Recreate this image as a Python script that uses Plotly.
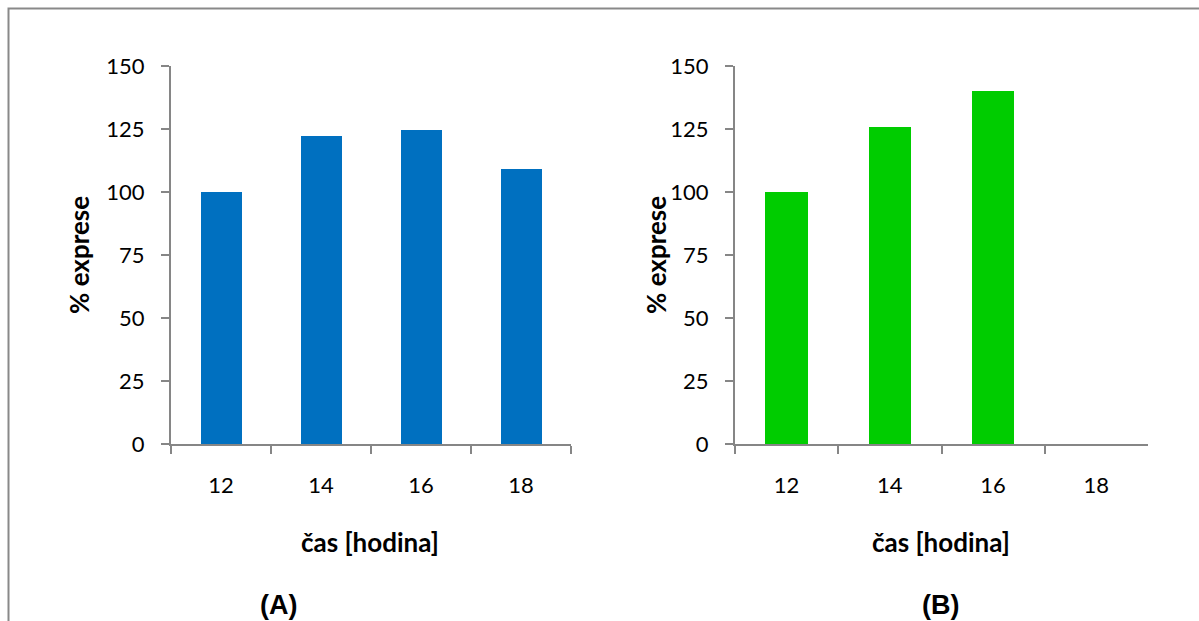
import plotly.graph_objects as go

# Data
hours = ["12", "14", "16", "18"]
expr_a = [100, 122.2, 124.6, 109.1]
expr_b = [100, 125.8, 140.0, None]
y_ticks = [0, 25, 50, 75, 100, 125, 150]

W, H = 1199, 621
AXIS_GRAY = "#868686"
TICK_FONT = dict(family="Lato, 'Open Sans', sans-serif", size=22, color="#000000")
TITLE_FONT = dict(family="Lato, 'Open Sans', sans-serif", size=26, color="#000000")
PANEL_FONT = dict(family="'Liberation Sans', Arial, sans-serif", size=27, color="#000000")

def px_x(x):
    return x / W

def px_y(y):
    return (H - y) / H

y_dom = [px_y(444), px_y(66)]
xa_dom = [px_x(171), px_x(571)]
xb_dom = [px_x(735), px_x(1148)]

fig = go.Figure()
fig.add_trace(go.Bar(x=hours, y=expr_a, marker_color="#0070C0", marker_line_width=0,
                     width=0.41, xaxis="x", yaxis="y", showlegend=False))
fig.add_trace(go.Bar(x=hours, y=expr_b, marker_color="#00CC00", marker_line_width=0,
                     width=0.41, xaxis="x2", yaxis="y2", showlegend=False))

xcommon = dict(type="category", range=[-0.5, 3.5], showline=True, linecolor=AXIS_GRAY,
               linewidth=2, ticks="outside", tickson="boundaries", ticklen=8,
               tickcolor=AXIS_GRAY, tickwidth=1.5, showgrid=False, zeroline=False,
               tickfont=TICK_FONT, ticklabelstandoff=21, automargin=False, fixedrange=True)
ycommon = dict(range=[0, 150], tickvals=y_ticks, showline=True, linecolor=AXIS_GRAY,
               linewidth=2, ticks="outside", ticklen=8, tickcolor=AXIS_GRAY, tickwidth=1.5,
               showgrid=False, zeroline=False, tickfont=TICK_FONT, ticklabelstandoff=12,
               automargin=False, fixedrange=True)

fig.update_layout(
    width=W, height=H,
    margin=dict(l=0, r=0, t=0, b=0, autoexpand=False),
    paper_bgcolor="white", plot_bgcolor="white",
    bargap=0,
    xaxis=dict(domain=xa_dom, anchor="y", **xcommon),
    yaxis=dict(domain=y_dom, anchor="x", **ycommon),
    xaxis2=dict(domain=xb_dom, anchor="y2", **xcommon),
    yaxis2=dict(domain=y_dom, anchor="x2", **ycommon),
)

# Axis titles and panel labels
annots = [
    (79, 255, "<b>% exprese</b>", -90, TITLE_FONT),
    (656, 255, "<b>% exprese</b>", -90, TITLE_FONT),
    (370, 542, "<b>čas [hodina]</b>", 0, TITLE_FONT),
    (941, 542, "<b>čas [hodina]</b>", 0, TITLE_FONT),
    (278, 605, "<b>(A)</b>", 0, PANEL_FONT),
    (940, 605, "<b>(B)</b>", 0, PANEL_FONT),
]
for x, y, txt, ang, font in annots:
    fig.add_annotation(x=px_x(x), y=px_y(y), xref="paper", yref="paper", text=txt,
                       showarrow=False, textangle=ang, font=font,
                       xanchor="center", yanchor="middle")

# Frame around the figure
fig.add_shape(type="rect", xref="paper", yref="paper",
              x0=px_x(8.5), x1=1.02, y0=-0.05, y1=px_y(8.5),
              line=dict(color="#898989", width=2), fillcolor="rgba(0,0,0,0)", layer="below")

fig.write_html("out.html")
